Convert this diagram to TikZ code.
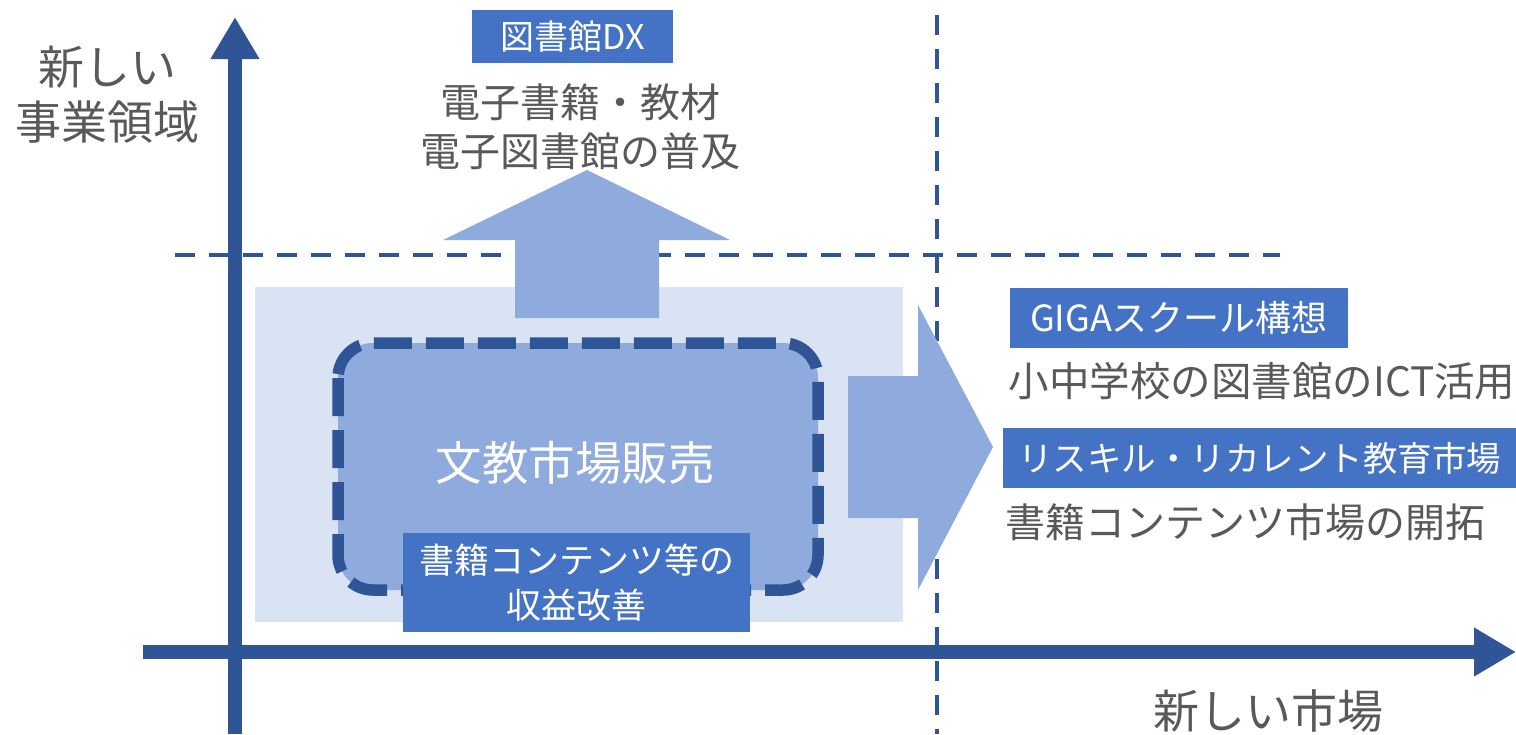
\documentclass[tikz,border=0pt]{standalone}
\usepackage{fontspec}
\setmainfont{Noto Sans CJK JP}
\usetikzlibrary{arrows.meta}
\definecolor{axisblue}{HTML}{2F5597}
\definecolor{arrowblue}{HTML}{8FAADC}
\definecolor{paleblue}{HTML}{DAE3F3}
\definecolor{boxblue}{HTML}{4472C4}
\definecolor{txtgray}{HTML}{595959}
\tikzset{
  axisline/.style={draw=axisblue, line width=14pt, -{Triangle[length=42pt,width=46pt]}},
  guide/.style={draw=axisblue, line width=4.5pt, dash pattern=on 20pt off 14pt},
  blockarrow/.style={fill=arrowblue, draw=none},
  tagbox/.style={fill=boxblue, draw=none, text=white, inner sep=0pt, align=center},
  graytext/.style={text=txtgray, inner sep=0pt, align=center},
}
\begin{document}
\begin{tikzpicture}[x=1pt,y=-1pt]
\useasboundingbox (0,0) rectangle (1516,734);
% guides
\coordinate (hgA) at (175,255);
\coordinate (hgB) at (1280,255);
\coordinate (vgA) at (937,15);
\coordinate (vgB) at (937,734);
\draw[guide] (hgA) -- (hgB);
\draw[guide] (vgA) -- (vgB);
% pale background
\fill[paleblue] (255,287) rectangle (903,622);
% block arrows
\fill[blockarrow] (515,318) -- (515,240) -- (443,240) -- (587,170) -- (730,240) -- (659,240) -- (659,318) -- cycle;
\fill[blockarrow] (848,376) -- (918,376) -- (918,305) -- (993,447) -- (918,590) -- (918,518) -- (848,518) -- cycle;
% dashed rounded box
\draw[draw=axisblue, fill=arrowblue, line width=11.5pt, rounded corners=35pt, dash pattern=on 38pt off 14pt] (338,343) rectangle (818,590);
\node[text=white, inner sep=0pt, font=\fontsize{46.5}{52}\selectfont] (core) at (575,463) {文教市場販売};
\node[tagbox, minimum width=347pt, minimum height=99pt, font=\fontsize{35}{45}\selectfont] (profit) at (576.5,582.5) {書籍コンテンツ等の\\収益改善};
% axes
\coordinate (yS) at (235,734);
\coordinate (yE) at (235,17);
\coordinate (xS) at (143,652);
\coordinate (xE) at (1516,652);
\draw[axisline] (yS) -- (yE);
\draw[axisline] (xS) -- (xE);
% axis labels
\node[graytext, font=\fontsize{46}{55}\selectfont] (ylab) at (108,95) {新しい\\事業領域};
\node[graytext, font=\fontsize{46}{50}\selectfont] (xlab) at (1268,711) {新しい市場};
% top
\node[tagbox, minimum width=201pt, minimum height=53pt, font=\fontsize{34}{40}\selectfont] (dx) at (572.5,36.5) {図書館DX};
\node[graytext, font=\fontsize{40}{49}\selectfont] (dxtext) at (580,127) {電子書籍・教材\\電子図書館の普及};
% right
\node[tagbox, minimum width=338pt, minimum height=60pt, font=\fontsize{36}{42}\selectfont] (giga) at (1179,318) {GIGAスクール構想};
\node[graytext, font=\fontsize{40.5}{46}\selectfont] (ict) at (1262,381) {小中学校の図書館のICT活用};
\node[tagbox, minimum width=513pt, minimum height=60pt, font=\fontsize{34.5}{40}\selectfont] (reskill) at (1259.5,458) {リスキル・リカレント教育市場};
\node[graytext, anchor=west, font=\fontsize{40}{46}\selectfont] (open) at (1005,522) {書籍コンテンツ市場の開拓};
\end{tikzpicture}
\end{document}
